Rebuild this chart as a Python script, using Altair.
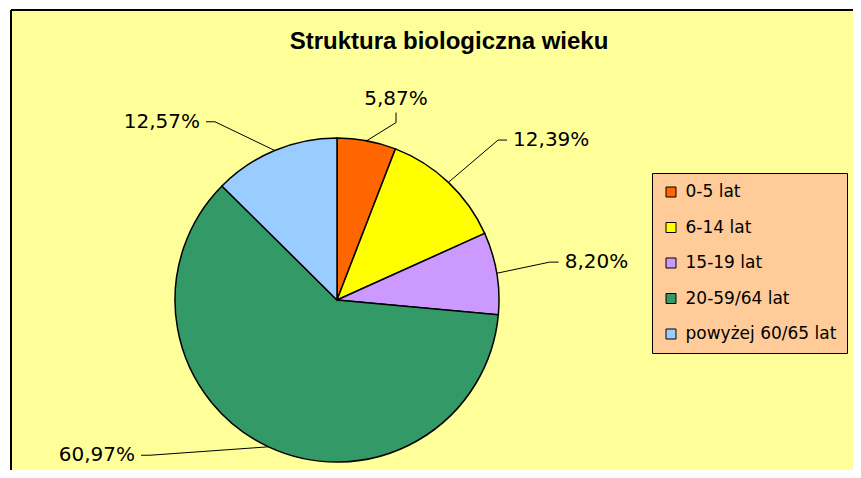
import altair as alt
import pandas as pd

# ---------------- data ----------------
TITLE = "Struktura biologiczna wieku"
CATEGORIES = ["0-5 lat", "6-14 lat", "15-19 lat", "20-59/64 lat", "powyżej 60/65 lat"]
SHARES = [5.87, 12.39, 8.20, 60.97, 12.57]
COLORS = ["#FF6600", "#FFFF00", "#CC99FF", "#339966", "#99CCFF"]

# ---------------- layout ----------------
# elbow of each label's leader line, in polar form around the pie centre
LABEL_ANGLE = [18.4, 45.2, 79.9, 230.3, 325.6]   # degrees clockwise from 12 o'clock
LABEL_RADIUS = [187, 227, 216, 243, 216]         # pixels

W, H = 842, 460
CX, CY, R = 326, 290, 162

df = pd.DataFrame({
    "cat": CATEGORIES,
    "share": SHARES,
    "idx": list(range(len(CATEGORIES))),
    "la": LABEL_ANGLE,
    "lr": LABEL_RADIUS,
})

noax = dict(scale=None, axis=None)

pie = alt.Chart(df).mark_arc(outerRadius=R, stroke="black", strokeWidth=1.5).encode(
    theta=alt.Theta("share:Q", stack=True),
    order=alt.Order("idx:Q", sort="ascending"),
    color=alt.Color(
        "cat:N",
        scale=alt.Scale(domain=CATEGORIES, range=COLORS),
        legend=alt.Legend(
            title=None, orient="none", legendX=641, legendY=163,
            fillColor="#FFCC99", strokeColor="black", padding=10.5,
            rowPadding=17.5, symbolType="square", symbolSize=100,
            symbolStrokeColor="black", symbolStrokeWidth=1,
            labelFont="DejaVu Sans", labelFontSize=17, labelColor="black",
            labelOffset=6, labelLimit=300,
        ),
    ),
    x=alt.value(CX),
    y=alt.value(CY),
)

geo = (
    alt.Chart(df)
    .transform_joinaggregate(total="sum(share)")
    .transform_window(cum="sum(share)", sort=[alt.SortField("idx")], frame=[None, 0])
    .transform_calculate(mid="((datum.cum - datum.share / 2) / datum.total) * 2 * PI")
    .transform_calculate(ex=f"{CX} + {R} * sin(datum.mid)")
    .transform_calculate(ey=f"{CY} - {R} * cos(datum.mid)")
    .transform_calculate(a="datum.la * PI / 180")
    .transform_calculate(lx=f"{CX} + datum.lr * sin(datum.a)")
    .transform_calculate(ly=f"{CY} - datum.lr * cos(datum.a)")
    .transform_calculate(s="sin(datum.a)")
    .transform_calculate(side="abs(datum.s) < 0.4 ? 'top' : (datum.s > 0 ? 'right' : 'left')")
    .transform_calculate(tx="datum.side == 'top' ? datum.lx : datum.lx + (datum.s > 0 ? 9 : -9)")
    .transform_calculate(ty="datum.side == 'top' ? datum.ly - 10 : datum.ly")
    .transform_calculate(label="replace(format(datum.share, '.2f'), '.', ',') + '%'")
)

lead1 = geo.mark_rule(color="black", strokeWidth=1).encode(
    x=alt.X("ex:Q", **noax), y=alt.Y("ey:Q", **noax), x2="lx:Q", y2="ly:Q"
)
lead2 = geo.mark_rule(color="black", strokeWidth=1).encode(
    x=alt.X("lx:Q", **noax), y=alt.Y("ly:Q", **noax), x2="tx:Q", y2="ty:Q"
)

txt_style = dict(font="DejaVu Sans", fontSize=20, color="black")
lab_right = geo.transform_filter("datum.side == 'right'").mark_text(
    align="left", baseline="middle", dx=6, **txt_style
).encode(x=alt.X("tx:Q", **noax), y=alt.Y("ty:Q", **noax), text="label:N")
lab_left = geo.transform_filter("datum.side == 'left'").mark_text(
    align="right", baseline="middle", dx=-6, **txt_style
).encode(x=alt.X("tx:Q", **noax), y=alt.Y("ty:Q", **noax), text="label:N")
lab_top = geo.transform_filter("datum.side == 'top'").mark_text(
    align="center", baseline="bottom", dy=-4, **txt_style
).encode(x=alt.X("tx:Q", **noax), y=alt.Y("ty:Q", **noax), text="label:N")

title = alt.Chart(pd.DataFrame({"t": [TITLE]})).mark_text(
    font="Liberation Sans", fontWeight="bold", fontSize=24, baseline="alphabetic",
    align="center", color="black",
).encode(text="t:N", x=alt.value(438), y=alt.value(39))

frame_df = pd.DataFrame({"k": [0]})
border_left = alt.Chart(frame_df).mark_rule(color="black", strokeWidth=2).encode(
    x=alt.value(0), y=alt.value(0), y2=alt.value(H)
)
border_top = alt.Chart(frame_df).mark_rule(color="black", strokeWidth=2).encode(
    x=alt.value(0), x2=alt.value(W), y=alt.value(0)
)

chart = (
    alt.layer(pie, lead1, lead2, lab_right, lab_left, lab_top, title, border_left, border_top)
    .properties(
        width=W, height=H,
        autosize=alt.AutoSizeParams(type="none"),
        padding={"left": 3, "top": 2, "right": 0, "bottom": 0},
        background="white",
    )
    .configure_view(fill="#FFFF99", strokeWidth=0)
)

chart.save("out.html", embed_options={"renderer": "svg", "actions": False})
